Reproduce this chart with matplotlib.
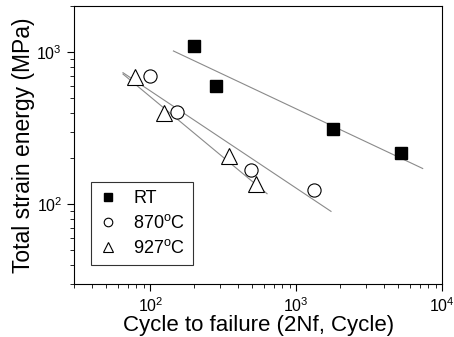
import matplotlib
matplotlib.use('Agg')
import matplotlib.pyplot as plt

plt.rcParams['font.family'] = ['Liberation Sans', 'DejaVu Sans']
plt.rcParams['mathtext.fontset'] = 'custom'
plt.rcParams['mathtext.rm'] = 'Liberation Sans'

# data
rt_n = [199, 281, 1795, 5240]
rt_w = [1100, 600, 310, 216]
t870_n = [100, 153, 487, 1333]
t870_w = [695, 403, 169, 125]
t927_n = [79, 124, 347, 526]
t927_w = [682, 395, 207, 136]

# fitted lines (end points)
rt_fit_n = [144, 7350]
rt_fit_w = [1015, 172]
t870_fit_n = [65, 1730]
t870_fit_w = [731, 90]
t927_fit_n = [65, 631]
t927_fit_w = [716, 117.5]

fig, ax = plt.subplots(figsize=(4.54, 3.37), dpi=100)
fig.subplots_adjust(left=0.163, right=0.974, top=0.982, bottom=0.157)

lc = '#8a8a8a'
ax.plot(rt_fit_n, rt_fit_w, color=lc, lw=0.8)
ax.plot(t870_fit_n, t870_fit_w, color=lc, lw=0.8)
ax.plot(t927_fit_n, t927_fit_w, color=lc, lw=0.8)

ax.plot(rt_n, rt_w, 's', color='k', ms=8, label='RT')
ax.plot(t870_n, t870_w, 'o', mfc='white', mec='k', mew=0.8, ms=9.5, label='870$^\\mathregular{o}$C')
ax.plot(t927_n, t927_w, '^', mfc='white', mec='k', mew=0.8, ms=11, label='927$^\\mathregular{o}$C')

ax.set_xscale('log')
ax.set_yscale('log')
ax.set_xlim(30, 1e4)
ax.set_ylim(30, 2000)

ax.set_xlabel('Cycle to failure (2Nf, Cycle)', fontsize=16, labelpad=0)
ax.set_ylabel('Total strain energy (MPa)', fontsize=16.5, labelpad=1)
ax.tick_params(which='major', direction='out', length=5, width=0.8, labelsize=11.5)
ax.tick_params(which='minor', direction='out', length=3, width=0.6)
for s in ax.spines.values():
    s.set_linewidth(0.8)

leg = ax.legend(loc='lower left', bbox_to_anchor=(0.045, 0.068), fontsize=13,
                frameon=True, fancybox=False, edgecolor='k', markerscale=0.65,
                handlelength=1.0, handletextpad=0.9, labelspacing=0.38,
                borderpad=0.45, borderaxespad=0)
leg.get_frame().set_linewidth(0.8)

plt.savefig('out.png', dpi=100)
